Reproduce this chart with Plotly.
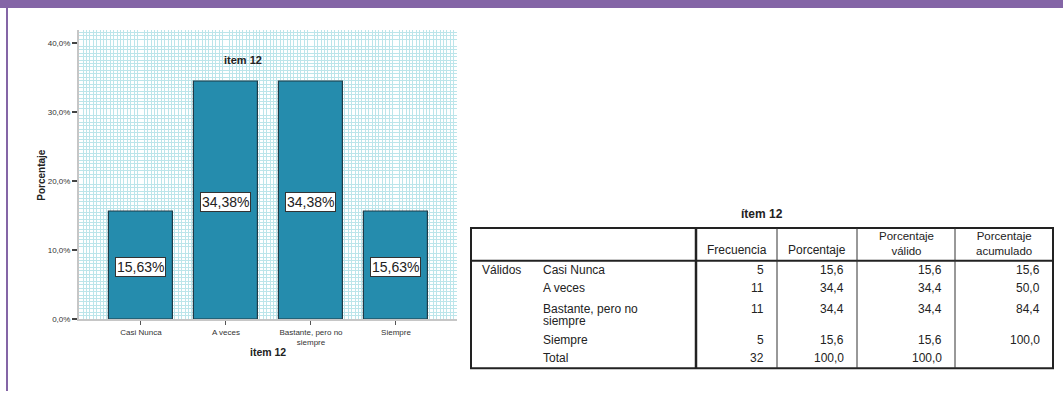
import plotly.graph_objects as go

W, H = 1063, 396

# ---------------- data ----------------
categories = ["Casi Nunca", "A veces", "Bastante, pero no siempre", "Siempre"]
tick_labels = ["Casi Nunca", "A veces", "Bastante, pero no<br>siempre", "Siempre"]
percent = [15.625, 34.375, 34.375, 15.625]
bar_labels = ["15,63%", "34,38%", "34,38%", "15,63%"]

chart_title = "item 12"
y_title = "Porcentaje"

table_title = "ítem 12"
table_headers = ["Frecuencia", "Porcentaje", "Porcentaje<br>válido", "Porcentaje<br>acumulado"]
row_group = "Válidos"
row_labels = ["Casi Nunca", "A veces", "Bastante, pero no\nsiempre", "Siempre", "Total"]
frecuencia = ["5", "11", "11", "5", "32"]
porcentaje = ["15,6", "34,4", "34,4", "15,6", "100,0"]
porcentaje_valido = ["15,6", "34,4", "34,4", "15,6", "100,0"]
porcentaje_acumulado = ["15,6", "50,0", "84,4", "100,0", ""]

def px(x):
    return x / W

def py(y):
    return 1 - y / H

FONT = "Liberation Sans, Arial, sans-serif"
BAR_COLOR = "#258CAD"
GRID_COLOR = "#BCE5EA"
PURPLE = "#8465A6"

fig = go.Figure()
fig.add_trace(go.Bar(
    x=list(range(len(categories))),
    y=percent,
    width=0.753,
    marker=dict(color=BAR_COLOR, line=dict(color="#1E3B47", width=1.2)),
    hovertext=categories,
    showlegend=False,
))

annotations = []
for i, (v, lab) in enumerate(zip(percent, bar_labels)):
    annotations.append(dict(
        x=i, y=v / 2, xref="x", yref="y", text=lab, showarrow=False,
        xanchor="center", yanchor="middle",
        font=dict(family=FONT, size=14, color="#222"),
        bgcolor="white", bordercolor="#333", borderwidth=1, borderpad=1,
        yshift=-2,
    ))

def text_at(x, y, text, size, bold=False, angle=0, xanchor="center", font_color="#222"):
    return dict(x=px(x), y=py(y), xref="paper", yref="paper",
                text=("<b>%s</b>" % text) if bold else text, showarrow=False,
                textangle=angle, xanchor=xanchor, yanchor="middle",
                font=dict(family=FONT, size=size, color=font_color))

annotations.append(text_at(243, 61, chart_title, 11, bold=True))
annotations.append(text_at(268, 357, chart_title, 10.5, bold=True))
annotations.append(text_at(42, 177, y_title, 10, bold=True, angle=-90))

col_x = [471, 696, 777, 857, 955, 1053]
t_top, t_head, t_bot = 231, 264, 373
row_y = [273, 292, 313, 344, 363]

annotations.append(text_at((col_x[0] + col_x[-1]) / 2, 217, table_title, 12, bold=True))

for j, hdr in enumerate(table_headers):
    cx = (col_x[j + 1] + col_x[j + 2]) / 2
    two = "<br>" in hdr
    annotations.append(dict(x=px(cx), y=py(262), xref="paper", yref="paper", text=hdr,
                            showarrow=False, font=dict(family=FONT, size=11.5 if two else 12, color="#222"),
                            xanchor="center", yanchor="bottom", align="center"))

annotations.append(text_at(480, row_y[0], row_group, 12, xanchor="left"))
for r, lab in enumerate(row_labels):
    for k, ln in enumerate(lab.split("\n")):
        annotations.append(text_at(541, row_y[r] + 12 * k, ln, 12, xanchor="left"))

for j, col in enumerate([frecuencia, porcentaje, porcentaje_valido, porcentaje_acumulado]):
    rx = col_x[j + 2] - 11
    for r, val in enumerate(col):
        if val:
            annotations.append(text_at(rx, row_y[r], val, 12, xanchor="right"))

shapes = []
shapes.append(dict(type="rect", xref="paper", yref="paper", x0=0, x1=1, y0=py(8), y1=1,
                   fillcolor=PURPLE, line=dict(width=0), layer="above"))
shapes.append(dict(type="rect", xref="paper", yref="paper", x0=px(6), x1=px(8), y0=0, y1=py(8),
                   fillcolor=PURPLE, line=dict(width=0), layer="above"))
shapes.append(dict(type="rect", xref="paper", yref="paper", x0=px(col_x[0]), x1=px(col_x[-1]),
                   y0=py(t_bot), y1=py(t_top), line=dict(color="#222", width=2)))
shapes.append(dict(type="line", xref="paper", yref="paper", x0=px(col_x[0]), x1=px(col_x[-1]),
                   y0=py(t_head), y1=py(t_head), line=dict(color="#222", width=2)))
shapes.append(dict(type="line", xref="paper", yref="paper", x0=px(col_x[1]), x1=px(col_x[1]),
                   y0=py(t_top), y1=py(t_bot), line=dict(color="#222", width=2.5)))
for cx in col_x[2:-1]:
    shapes.append(dict(type="line", xref="paper", yref="paper", x0=px(cx), x1=px(cx),
                       y0=py(t_top), y1=py(t_bot), line=dict(color="#333", width=1)))

fig.update_layout(
    width=W, height=H,
    margin=dict(l=0, r=0, t=0, b=0),
    paper_bgcolor="white", plot_bgcolor="white",
    separators=",.",
    showlegend=False,
    bargap=0,
    font=dict(family=FONT),
    xaxis=dict(
        domain=[px(79), px(457)], range=[-0.729, 3.718],
        tickmode="linear", tick0=0, dtick=1,
        labelalias={str(i): t for i, t in enumerate(tick_labels)},
        ticks="outside", ticklen=4, tickcolor="#555", tickwidth=1,
        tickfont=dict(family=FONT, size=8, color="#333"),
        showline=True, linecolor="#C6C6C6", linewidth=2,
        showgrid=False, zeroline=False, fixedrange=True,
        minor=dict(tick0=0, dtick=0.04, showgrid=True, gridcolor=GRID_COLOR, gridwidth=1, ticks=""),
    ),
    yaxis=dict(
        domain=[py(323.3), py(30)], range=[0, 41.9],
        tickmode="linear", tick0=0, dtick=10, tickformat=".1f", ticksuffix="%",
        ticks="outside", ticklen=5, tickcolor="#444", tickwidth=1.5,
        tickfont=dict(family=FONT, size=8, color="#333"),
        showline=True, linecolor="#C6C6C6", linewidth=2,
        showgrid=False, zeroline=False, fixedrange=True,
        minor=dict(tick0=0, dtick=0.5, showgrid=True, gridcolor=GRID_COLOR, gridwidth=1, ticks=""),
    ),
    annotations=annotations,
    shapes=shapes,
)

fig.write_html(
    "out.html",
    config={"displayModeBar": False, "responsive": False},
    post_script=(
        "var de=document.documentElement, b=document.body;"
        "b.style.margin='0';b.style.overflow='hidden';de.style.overflow='hidden';"
    ),
)
